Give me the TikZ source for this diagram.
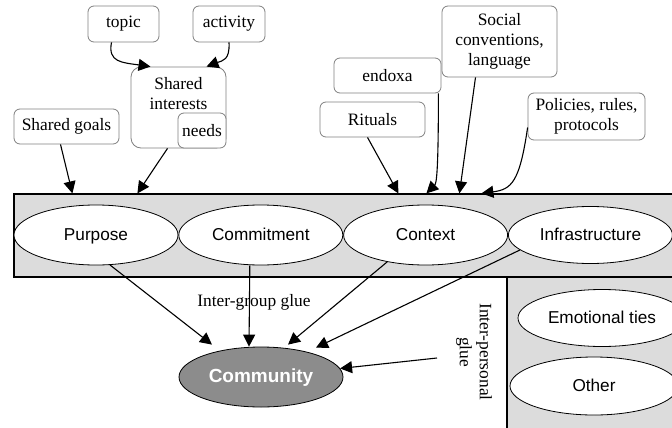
\documentclass[tikz,border=0pt]{standalone}
\usepackage{fontspec}
\setmainfont{Liberation Serif}
\setsansfont{Liberation Sans}
\usetikzlibrary{arrows.meta,positioning,fit,shapes.geometric,calc}
\definecolor{bandgray}{RGB}{220,220,220}
\definecolor{boxline}{RGB}{128,128,128}
\definecolor{comgray}{RGB}{140,140,140}

\begin{document}
\begin{tikzpicture}[x=0.5pt, y=-0.5pt, every node/.style={font=\fontsize{8.7}{10}\selectfont}, box/.style={rectangle, rounded corners=3pt, draw=boxline, fill=white, align=center, inner sep=0pt, minimum height=17.5pt}, band/.style={rectangle, draw=black, fill=bandgray, inner sep=0pt, line width=0.6pt}, part/.style={ellipse, draw=black, fill=white, inner sep=0pt, minimum width=82pt, minimum height=30pt, text height=1.6ex, text depth=0.4ex, font=\sffamily\fontsize{8.6}{10}\selectfont}, arrow/.style={-{Triangle[length=6pt, width=6pt]}, line width=0.55pt}]
\useasboundingbox (0,0) rectangle (672,427);
\clip (0,0) rectangle (672,427);
\node[band, fit={(14,194) (690,277)}] (band) {};
\node[band, fit={(507,277) (690,440)}] (pbox) {};
\node[box, minimum width=35.5pt, minimum height=18pt] (topic) at (123.5,24) {topic};
\node[box, minimum width=36pt, minimum height=18pt] (activity) at (229,24) {activity};
\node[box, rounded corners=5pt, minimum width=47.5pt, minimum height=40.5pt, label={[align=center, anchor=north, inner sep=1pt, yshift=-4pt]north:Shared\\interests}] (interests) at (178.5,107.5) {};
\node[box, minimum width=24pt] (needs) at (202,130.5) {needs};
\node[box, minimum width=52.5pt] (goals) at (66.5,126.5) {Shared goals};
\node[box, minimum width=53.5pt] (endoxa) at (387.5,75.5) {endoxa};
\node[box, minimum width=52.5pt] (rituals) at (372.5,119.5) {Rituals};
\node[box, minimum width=57.5pt, minimum height=35.5pt] (social) at (499.5,41.5) {Social\\conventions,\\language};
\node[box, minimum width=58.5pt, minimum height=23.5pt] (policies) at (586.5,116.5) {Policies, rules,\\protocols};
\node[part] (purpose) at (96,235) {Purpose};
\node[part, right=0pt of purpose] (commitment) {Commitment};
\node[part, right=0pt of commitment] (context) {Context};
\node[part, right=0pt of context, minimum height=28.5pt] (infra) {Infrastructure};
\node[part, minimum width=84pt, minimum height=28.5pt] (emotional) at (602,318) {Emotional ties};
\node[part, minimum width=84pt, minimum height=29pt] (other) at (594,386) {Other};
\node[part, fill=comgray, text=white, font=\sffamily\bfseries\fontsize{9.5}{11}\selectfont] (community) at (261,377) {Community};
\node (intergroup) at (254,302) {Inter-group glue};
\node[rotate=-90, align=center] (interpersonal) at (474,352) {Inter-personal\\glue};
\coordinate (ipstart) at (437,358);
\draw[arrow] ($(topic.south)+(-12,0)$) .. controls +(-4,20) and +(-28,-4) .. ($(interests.north)+(-28,0)$);
\draw[arrow] (activity.south) .. controls +(1,18) and +(16,-6) .. ($(interests.north)+(28,0)$);
\draw[arrow] ($(goals.south)+(-6,0)$) -- ($(band.north west)+(59,0)$);
\draw[arrow] ($(interests.south)+(-11,0)$) -- ($(band.north west)+(124,0)$);
\draw[arrow] ($(rituals.south)+(-5,0)$) -- ($(band.north west)+(385,0)$);
\draw[arrow] ($(endoxa.south east)+(-3,0)$) .. controls +(0,80) and +(10,-10) .. ($(band.north west)+(413,0)$);
\draw[arrow] ($(social.south)+(-24,0)$) -- ($(band.north west)+(446,0)$);
\draw[arrow] ($(policies.west)+(0,11)$) .. controls +(-8,55) and +(30,-4) .. ($(band.north west)+(468,0)$);
\draw[arrow] (purpose.-65) -- ($(community.north)+(-49,-2)$);
\draw[arrow] ($(commitment.south)+(-11,0)$) -- ($(community.north)+(-12,0)$);
\draw[arrow] (context.-145) -- ($(community.north)+(27,-2)$);
\draw[arrow] (infra.-168) -- ($(community.north)+(55,1)$);
\draw[arrow] (ipstart) -- (community);
\end{tikzpicture}
\end{document}
